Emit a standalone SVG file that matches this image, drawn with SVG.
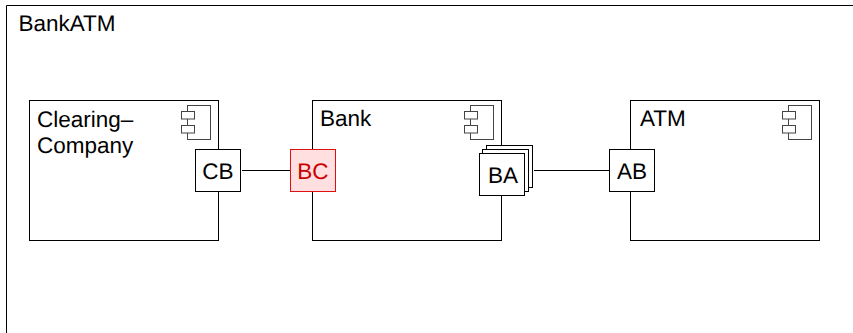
<svg xmlns="http://www.w3.org/2000/svg" width="853" height="333" viewBox="0 0 853 333">
<style>
.s{fill:#fff;stroke:#000;stroke-width:1}
.i{fill:#fff;stroke:#444;stroke-width:1}
text{font-family:"Liberation Sans",Arial,sans-serif;font-size:22.500px;fill:#000;text-rendering:geometricPrecision}
.r{fill:#c00}
</style>
<defs>
<g id="icon">
<rect class="i" x="6.500" y="0.500" width="23" height="34"/>
<rect class="i" x="0.500" y="6.500" width="13" height="7.500"/>
<rect class="i" x="0.500" y="20.500" width="13" height="7.500"/>
</g>
</defs>
<rect width="853" height="333" fill="#fff"/>
<g id="BankATM">
<path d="M6.500 333V5.500H853" fill="none" stroke="#000"/>
<text x="18.500" y="31">BankATM</text>
</g>
<g id="connectors">
<path d="M242 170.500H290M534 170.500H609" fill="none" stroke="#000"/>
</g>
<g id="ClearingCompany">
<rect class="s" x="29.500" y="100.500" width="189" height="140"/>
<use href="#icon" x="181" y="105"/>
<text x="37" y="126.500">Clearing–</text>
<text x="37" y="153">Company</text>
</g>
<g id="Bank">
<rect class="s" x="312.500" y="100.500" width="189" height="140"/>
<use href="#icon" x="464" y="105"/>
<text x="320" y="126">Bank</text>
</g>
<g id="ATM">
<rect class="s" x="630.500" y="100.500" width="189" height="140"/>
<use href="#icon" x="782" y="105"/>
<text x="640" y="126">ATM</text>
</g>
<g id="CB">
<rect class="s" x="195.500" y="149.500" width="45" height="42"/>
<text x="218" y="179" text-anchor="middle">CB</text>
</g>
<g id="BC">
<rect x="290.500" y="149.500" width="45" height="42" fill="#ffdfdf" stroke="#d11"/>
<text class="r" x="313" y="179" text-anchor="middle">BC</text>
</g>
<g id="BA">
<rect class="s" x="486.500" y="145.500" width="46" height="42"/>
<rect class="s" x="482.500" y="149.500" width="46" height="42"/>
<rect class="s" x="479.500" y="153.500" width="45" height="42"/>
<text x="503" y="183" text-anchor="middle">BA</text>
</g>
<g id="AB">
<rect class="s" x="609.500" y="149.500" width="45" height="42"/>
<text x="632" y="179" text-anchor="middle">AB</text>
</g>
</svg>
